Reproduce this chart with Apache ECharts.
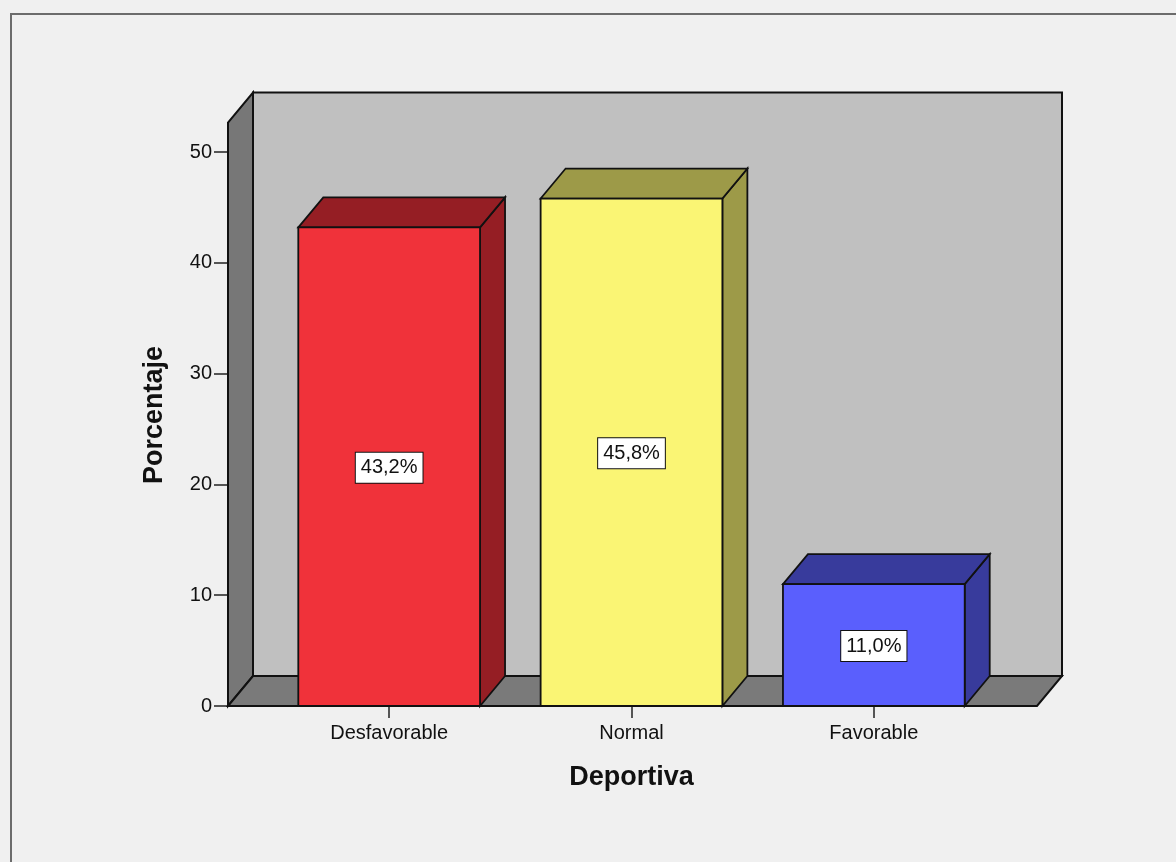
<!DOCTYPE html>
<html>
<head>
<meta charset="utf-8">
<script src="https://cdn.jsdelivr.net/npm/echarts@6/dist/echarts.min.js"></script>
<style>
  html, body { margin: 0; padding: 0; background: #f0f0f0; }
  #chart { width: 1176px; height: 862px; }
</style>
</head>
<body>
<div id="chart"></div>
<script>
// Data
const categories = ['Desfavorable', 'Normal', 'Favorable'];
const percentages = [43.2, 45.8, 11.0];
const yTicks = [0, 10, 20, 30, 40, 50];

// Colours: front face and shaded (top / side) faces of each bar
const frontColors = ['#f0323a', '#faf574', '#5a5ffd'];
const shadeColors = ['#951e24', '#9d9a48', '#383b9c'];

// 3D layout
const DX = 25, DY = -30;          // depth offset of the box
const WALL_TOP = 52.66;           // value where the walls end
const WALL_PAD_L = 40, WALL_PAD_R = 42;
const FONT = '"Liberation Sans", Arial, sans-serif';

function fmt(v) {
  return v.toFixed(1).replace('.', ',') + '%';
}

// Back wall, left wall and floor
function renderFrame(params, api) {
  const cs = params.coordSys;
  const y0 = api.coord([0, 0])[1];
  const yTop = api.coord([0, WALL_TOP])[1];
  const L = cs.x - WALL_PAD_L;
  const R = cs.x + cs.width + WALL_PAD_R;
  const edge = { stroke: '#111', lineWidth: 2, lineJoin: 'miter' };
  return {
    type: 'group',
    children: [
      { type: 'polygon',
        shape: { points: [[L + DX, yTop + DY], [R + DX, yTop + DY], [R + DX, y0 + DY], [L + DX, y0 + DY]] },
        style: Object.assign({ fill: '#c0c0c0' }, edge) },
      { type: 'polygon',
        shape: { points: [[L, y0], [L, yTop], [L + DX, yTop + DY], [L + DX, y0 + DY]] },
        style: Object.assign({ fill: '#777777' }, edge) },
      { type: 'polygon',
        shape: { points: [[L, y0], [R, y0], [R + DX, y0 + DY], [L + DX, y0 + DY]] },
        style: Object.assign({ fill: '#7a7a7a' }, edge) }
    ]
  };
}

// One 3D bar with its value label
function renderBar(params, api) {
  const idx = api.value(0);
  const v = api.value(1);
  const top = api.coord([idx, v]);
  const base = api.coord([idx, 0]);
  const w = api.size([1, 0])[0] * 0.75;
  const x0 = top[0] - w / 2, x1 = top[0] + w / 2;
  const yT = top[1], yB = base[1];
  const edge = { stroke: '#111', lineWidth: 1.8, lineJoin: 'miter' };
  return {
    type: 'group',
    children: [
      { type: 'polygon',
        shape: { points: [[x1, yT], [x1 + DX, yT + DY], [x1 + DX, yB + DY], [x1, yB]] },
        style: Object.assign({ fill: shadeColors[idx] }, edge) },
      { type: 'polygon',
        shape: { points: [[x0, yT], [x1, yT], [x1 + DX, yT + DY], [x0 + DX, yT + DY]] },
        style: Object.assign({ fill: shadeColors[idx] }, edge) },
      { type: 'rect',
        shape: { x: x0, y: yT, width: w, height: yB - yT },
        style: Object.assign({ fill: frontColors[idx] }, edge) },
      { type: 'text',
        x: top[0], y: (yT + yB) / 2 + 1,
        style: {
          text: fmt(v),
          fill: '#111',
          font: '20px ' + FONT,
          align: 'center',
          verticalAlign: 'middle',
          lineHeight: 22,
          backgroundColor: '#ffffff',
          borderColor: '#111',
          borderWidth: 1,
          padding: [4, 5, 4, 5]
        } }
    ]
  };
}

const chart = echarts.init(document.getElementById('chart'), null, { renderer: 'canvas' });

chart.setOption({
  backgroundColor: '#f0f0f0',
  animation: false,
  graphic: [{
    type: 'rect',
    z: -10,
    shape: { x: 11, y: 14, width: 1400, height: 1000 },
    style: { fill: 'none', stroke: '#6c6c6c', lineWidth: 2 }
  }],
  grid: { left: 268, right: 181, top: 152, bottom: 156 },
  xAxis: {
    type: 'category',
    data: categories,
    axisLine: { show: false },
    axisTick: { show: true, alignWithLabel: true, length: 12, lineStyle: { color: '#222', width: 1.5 } },
    axisLabel: { margin: 17, color: '#111', fontFamily: FONT, fontSize: 20 },
    name: 'Deportiva',
    nameLocation: 'middle',
    nameGap: 58,
    nameTextStyle: { color: '#111', fontFamily: FONT, fontSize: 27, fontWeight: 'bold' }
  },
  yAxis: {
    type: 'value',
    min: yTicks[0],
    max: yTicks[yTicks.length - 1],
    interval: yTicks[1] - yTicks[0],
    offset: WALL_PAD_L,
    axisLine: { show: false },
    axisTick: { show: true, length: 14, lineStyle: { color: '#222', width: 1.5 } },
    axisLabel: { margin: 16, color: '#111', fontFamily: FONT, fontSize: 20, padding: [5, 0, 0, 0] },
    splitLine: { show: false },
    name: 'Porcentaje',
    nameLocation: 'middle',
    nameGap: 60,
    nameTextStyle: { color: '#111', fontFamily: FONT, fontSize: 27, fontWeight: 'bold', padding: [0, 0, 0, 28] }
  },
  series: [
    {
      type: 'custom',
      z: 1,
      silent: true,
      renderItem: renderFrame,
      data: [[0, 0]]
    },
    {
      type: 'custom',
      z: 2,
      renderItem: renderBar,
      encode: { x: 0, y: 1 },
      data: categories.map((c, i) => [i, percentages[i]])
    }
  ]
});
</script>
</body>
</html>
